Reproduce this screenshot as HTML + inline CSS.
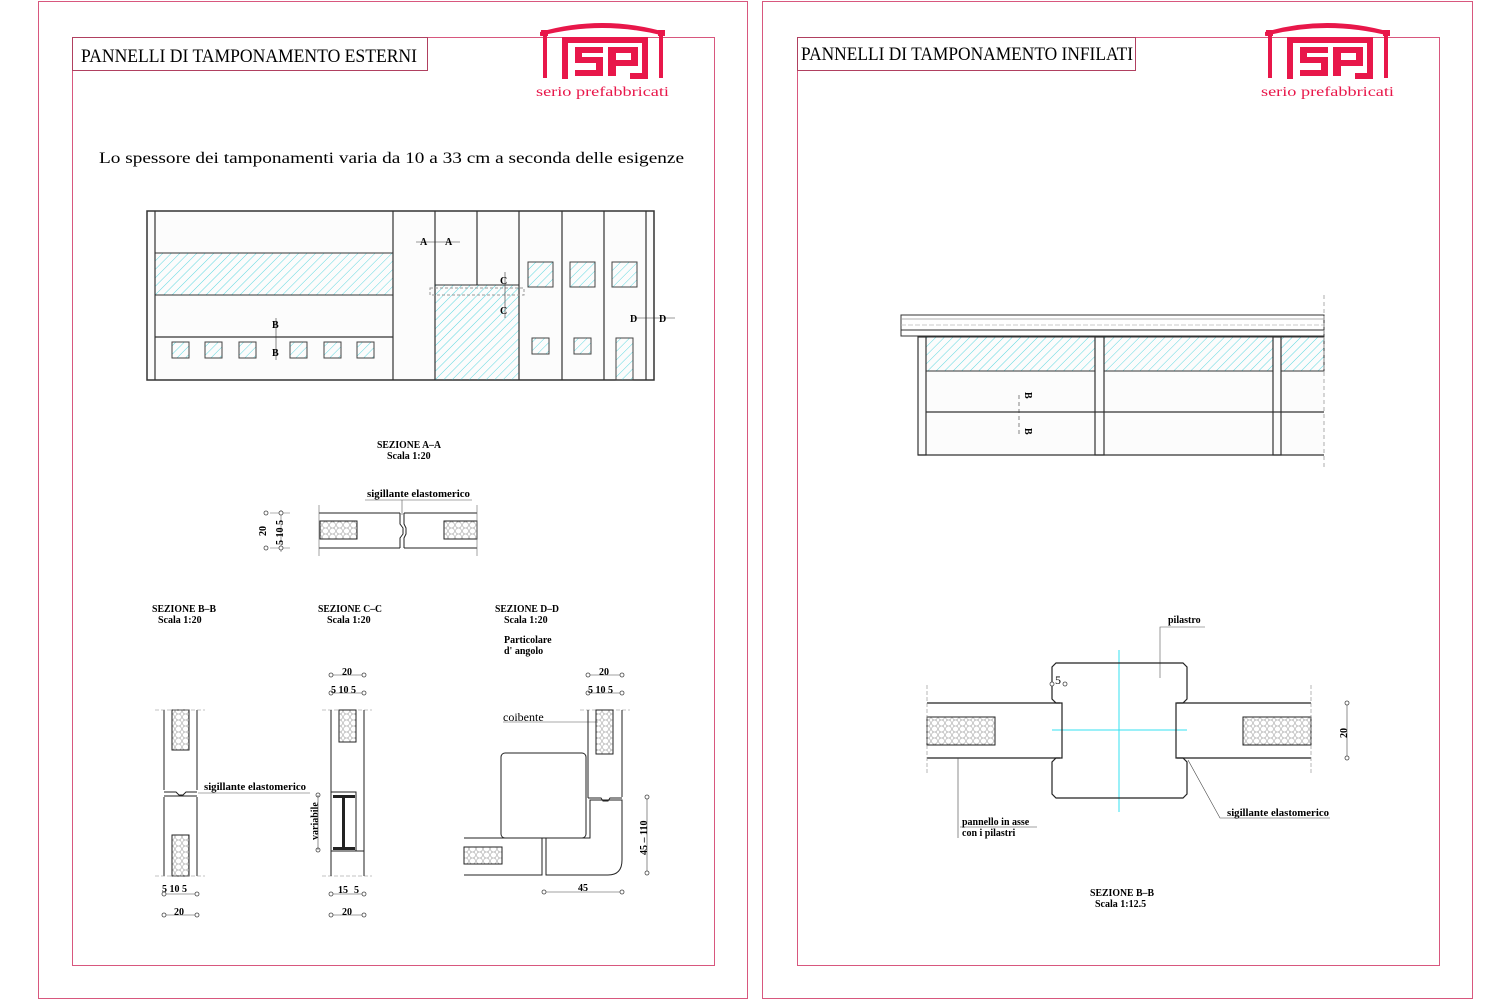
<!DOCTYPE html>
<html><head><meta charset="utf-8"><style>
html,body{margin:0;padding:0;background:#fff}
svg{display:block}
text{font-family:"Liberation Serif",serif;fill:#000}
.s{font-weight:bold;font-size:10px}
</style></head><body>
<svg width="1500" height="1000" viewBox="0 0 1500 1000" xmlns="http://www.w3.org/2000/svg">
<defs>
<pattern id="h" width="6" height="6" patternUnits="userSpaceOnUse" patternTransform="rotate(45)">
<line x1="0" y1="0" x2="0" y2="6" stroke="#5fd8e0" stroke-width="1"/>
</pattern>
<pattern id="hex" width="7" height="6" patternUnits="userSpaceOnUse">
<circle cx="3.5" cy="3" r="3" fill="none" stroke="#aaa" stroke-width="0.6"/>
</pattern>
<g id="logo" fill="#e8174a">
<path d="M540 32 Q602 14 665 32 L665 36 Q602 20 540 36 Z"/>
<rect x="541" y="30" width="7" height="6"/><rect x="543" y="36" width="4" height="42"/>
<rect x="658" y="30" width="7" height="6"/><rect x="659" y="36" width="4" height="42"/>
<path d="M562 37 H648 V79 H630 V73 H642 V43 H568 V79 H562 Z"/>
<path d="M575 47 H603 V53 H582 V57 H603 V76 H575 V70 H596 V63 H575 Z"/>
<path d="M608 47 H638 V66 H616 V76 H608 Z M616 53 V60 H631 V53 Z"/>
</g>
<g id="dot"><circle r="2" fill="#fff" stroke="#444" stroke-width="0.8"/></g>
</defs>

<g fill="none" stroke="#d8577e" stroke-width="1">
<rect x="38.5" y="1.5" width="709" height="997"/>
<rect x="72.5" y="37.5" width="642" height="928"/>
<rect x="762.5" y="1.5" width="710" height="997"/>
<rect x="797.5" y="37.5" width="642" height="928"/>
</g>
<g fill="#fff" stroke="#b04060" stroke-width="1">
<rect x="72.5" y="37.5" width="355" height="33"/>
<rect x="797.5" y="37.5" width="338" height="33"/>
</g>
<text x="81" y="62" font-size="19" textLength="336" lengthAdjust="spacingAndGlyphs">PANNELLI  DI  TAMPONAMENTO  ESTERNI</text>
<text x="801" y="60" font-size="19" textLength="332" lengthAdjust="spacingAndGlyphs">PANNELLI  DI  TAMPONAMENTO  INFILATI</text>

<use href="#logo"/>
<use href="#logo" transform="translate(725,0)"/>
<text x="536" y="96" font-size="14" style="fill:#e8174a" textLength="133" lengthAdjust="spacingAndGlyphs">serio  prefabbricati</text>
<text x="1261" y="96" font-size="14" style="fill:#e8174a" textLength="133" lengthAdjust="spacingAndGlyphs">serio  prefabbricati</text>

<text x="99" y="163" font-size="16" textLength="585" lengthAdjust="spacingAndGlyphs">Lo  spessore  dei  tamponamenti  varia  da  10  a  33  cm  a  seconda  delle  esigenze</text>

<rect x="147" y="211" width="507" height="169" fill="#fcfcfc" stroke="#333" stroke-width="1.5"/>
<rect x="155" y="253" width="238" height="42" fill="url(#h)" stroke="#333"/>
<rect x="435" y="285" width="84" height="95" fill="url(#h)" stroke="#333"/>
<g fill="url(#h)" stroke="#444">
<rect x="172" y="342" width="17" height="16"/><rect x="205" y="342" width="17" height="16"/><rect x="239" y="342" width="17" height="16"/>
<rect x="290" y="342" width="17" height="16"/><rect x="324" y="342" width="17" height="16"/><rect x="357" y="342" width="17" height="16"/>
<rect x="528" y="262" width="25" height="25"/><rect x="570" y="262" width="25" height="25"/><rect x="612" y="262" width="25" height="25"/>
<rect x="532" y="338" width="17" height="16"/><rect x="574" y="338" width="17" height="16"/><rect x="616" y="338" width="17" height="42"/>
</g>
<g stroke="#333" stroke-width="1.2">
<line x1="155" y1="211" x2="155" y2="380"/><line x1="393" y1="211" x2="393" y2="380"/>
<line x1="435" y1="211" x2="435" y2="380"/><line x1="477" y1="211" x2="477" y2="285"/>
<line x1="519" y1="211" x2="519" y2="380"/><line x1="562" y1="211" x2="562" y2="380"/>
<line x1="604" y1="211" x2="604" y2="380"/><line x1="646" y1="211" x2="646" y2="380"/>
<line x1="155" y1="337" x2="393" y2="337"/>
</g>
<rect x="430" y="288" width="94" height="7" fill="none" stroke="#999" stroke-dasharray="3,2"/>
<g stroke="#333" stroke-width="0.6" fill="none">
<line x1="416" y1="242" x2="460" y2="242"/>
<line x1="276" y1="318" x2="276" y2="360"/><line x1="505" y1="272" x2="505" y2="318"/>
<line x1="633" y1="318" x2="675" y2="318"/>
</g>
<text x="420" y="245" class="s">A</text><text x="445" y="245" class="s">A</text>
<text x="630" y="322" class="s">D</text><text x="659" y="322" class="s">D</text>
<text x="272" y="328" class="s">B</text><text x="272" y="356" class="s">B</text>
<text x="500" y="284" class="s">C</text><text x="500" y="314" class="s">C</text>

<text x="377" y="448" class="s" textLength="64" lengthAdjust="spacingAndGlyphs">SEZIONE   A–A</text>
<text x="387" y="459" class="s">Scala  1:20</text>
<text x="367" y="497" class="s" textLength="103" lengthAdjust="spacingAndGlyphs">sigillante  elastomerico</text>
<line x1="365" y1="500" x2="472" y2="500" stroke="#555" stroke-width="0.6"/>
<line x1="402" y1="500" x2="402" y2="515" stroke="#555" stroke-width="0.6"/>
<g stroke="#222" stroke-width="1" fill="none">
<line x1="319" y1="513" x2="400" y2="513"/><line x1="319" y1="548" x2="400" y2="548"/>
<line x1="404" y1="513" x2="477" y2="513"/><line x1="404" y1="548" x2="477" y2="548"/>
<path d="M400 513 V524 L403 528 V534 L400 538 V548 M404 513 V524 L406 528 V534 L404 538 V548"/>
</g>
<rect x="320" y="521" width="37" height="18" fill="url(#hex)" stroke="#222"/>
<rect x="444" y="521" width="33" height="18" fill="url(#hex)" stroke="#222"/>
<g stroke="#666" stroke-width="0.6"><line x1="319" y1="505" x2="319" y2="556"/><line x1="477" y1="505" x2="477" y2="556"/>
<line x1="270" y1="513" x2="290" y2="513"/><line x1="270" y1="548" x2="290" y2="548"/><line x1="281" y1="510" x2="281" y2="552"/></g>
<use href="#dot" x="281" y="513"/><use href="#dot" x="281" y="548"/><use href="#dot" x="266" y="513"/><use href="#dot" x="266" y="548"/>
<text x="266" y="536" class="s" transform="rotate(-90 266 536)">20</text>
<text x="283" y="545" class="s" transform="rotate(-90 283 545)">5 10 5</text>

<text x="152" y="612" class="s" textLength="64" lengthAdjust="spacingAndGlyphs">SEZIONE   B–B</text>
<text x="158" y="623" class="s">Scala  1:20</text>
<text x="318" y="612" class="s" textLength="64" lengthAdjust="spacingAndGlyphs">SEZIONE   C–C</text>
<text x="327" y="623" class="s">Scala  1:20</text>
<text x="495" y="612" class="s" textLength="64" lengthAdjust="spacingAndGlyphs">SEZIONE   D–D</text>
<text x="504" y="623" class="s">Scala  1:20</text>
<text x="504" y="643" class="s">Particolare</text>
<text x="504" y="654" class="s">d'  angolo</text>

<g stroke="#222" stroke-width="1" fill="none">
<path d="M164 710 V790 M197 710 V790 M164 797 V876 M197 797 V876"/>
<path d="M164 792 H176 L179 795 H183 L186 792 H197 M164 796 H197"/>
</g>
<rect x="172" y="710" width="17" height="40" fill="url(#hex)" stroke="#222"/>
<rect x="172" y="835" width="17" height="41" fill="url(#hex)" stroke="#222"/>
<line x1="198" y1="793" x2="310" y2="793" stroke="#555" stroke-width="0.6"/>
<text x="204" y="790" class="s" font-size="10.5" textLength="102" lengthAdjust="spacingAndGlyphs">sigillante  elastomerico</text>
<g stroke="#888" stroke-width="0.6" stroke-dasharray="4,2"><line x1="155" y1="710" x2="205" y2="710"/><line x1="155" y1="876" x2="205" y2="876"/>
<line x1="322" y1="710" x2="372" y2="710"/><line x1="322" y1="876" x2="372" y2="876"/>
<line x1="580" y1="710" x2="630" y2="710"/></g>
<g stroke="#444" stroke-width="0.6"><line x1="164" y1="894" x2="197" y2="894"/><line x1="164" y1="915" x2="197" y2="915"/>
<line x1="331" y1="675" x2="364" y2="675"/><line x1="331" y1="693" x2="364" y2="693"/>
<line x1="331" y1="894" x2="364" y2="894"/><line x1="331" y1="915" x2="364" y2="915"/>
<line x1="588" y1="675" x2="622" y2="675"/><line x1="588" y1="693" x2="622" y2="693"/>
<line x1="544" y1="892" x2="622" y2="892"/><line x1="647" y1="797" x2="647" y2="873"/></g>
<use href="#dot" x="164" y="915"/><use href="#dot" x="197" y="915"/><use href="#dot" x="164" y="894"/><use href="#dot" x="197" y="894"/>
<use href="#dot" x="331" y="675"/><use href="#dot" x="364" y="675"/><use href="#dot" x="331" y="693"/><use href="#dot" x="364" y="693"/>
<use href="#dot" x="331" y="894"/><use href="#dot" x="364" y="894"/><use href="#dot" x="331" y="915"/><use href="#dot" x="364" y="915"/>
<use href="#dot" x="588" y="675"/><use href="#dot" x="622" y="675"/><use href="#dot" x="588" y="693"/><use href="#dot" x="622" y="693"/>
<use href="#dot" x="544" y="892"/><use href="#dot" x="622" y="892"/><use href="#dot" x="647" y="797"/><use href="#dot" x="647" y="873"/>
<use href="#dot" x="318" y="795"/><use href="#dot" x="318" y="850"/>
<text x="162" y="892" class="s">5 10 5</text><text x="174" y="915" class="s">20</text>
<text x="342" y="675" class="s">20</text><text x="331" y="693" class="s">5 10 5</text>
<text x="338" y="893" class="s">15</text><text x="354" y="893" class="s">5</text><text x="342" y="915" class="s">20</text>
<text x="599" y="675" class="s">20</text><text x="588" y="693" class="s">5 10 5</text>
<text x="578" y="891" class="s">45</text>
<text x="647" y="855" class="s" transform="rotate(-90 647 855)">45 – 110</text>
<text x="318" y="840" class="s" transform="rotate(-90 318 840)">variabile</text>

<g stroke="#222" stroke-width="1" fill="none">
<path d="M331 710 V876 M364 710 V876 M331 792 H356 V851 H364 M331 851 H356"/>
</g>
<rect x="339" y="710" width="17" height="32" fill="url(#hex)" stroke="#222"/>
<g fill="#222"><rect x="333" y="795" width="22" height="3"/><rect x="333" y="847" width="22" height="3"/><rect x="342" y="798" width="3" height="49"/></g>
<line x1="318" y1="795" x2="318" y2="850" stroke="#444" stroke-width="0.6"/>

<text x="503" y="721" font-size="12">coibente</text>
<line x1="503" y1="722" x2="598" y2="722" stroke="#555" stroke-width="0.6"/>
<g stroke="#222" stroke-width="1" fill="none">
<path d="M588 710 V798 M622 710 V797"/>
<path d="M588 798 H601 L603 801 H608 L610 798 H622"/>
<rect x="501" y="753" width="85" height="85" rx="4"/>
<path d="M464 838 H542 V875 H464 M546 838 V875 H608 Q622 875 622 860 V800 H590 V838 H546"/>
</g>
<rect x="596" y="710" width="17" height="44" fill="url(#hex)" stroke="#222"/>
<rect x="464" y="847" width="38" height="17" fill="url(#hex)" stroke="#222"/>

<rect x="901" y="315" width="423" height="15" fill="#fff" stroke="#333"/>
<rect x="901" y="330" width="423" height="6" fill="#fff" stroke="#333"/>
<line x1="901" y1="319" x2="1324" y2="319" stroke="#999" stroke-width="0.8"/>
<line x1="901" y1="325" x2="1324" y2="325" stroke="#bbb" stroke-width="0.8" stroke-dasharray="5,2"/>
<rect x="918" y="337" width="406" height="118" fill="#fcfcfc" stroke="none"/>
<g fill="url(#h)" stroke="#333"><rect x="926" y="337" width="169" height="34"/><rect x="1104" y="337" width="169" height="34"/><rect x="1281" y="337" width="43" height="34"/></g>
<g stroke="#333" stroke-width="1.2" fill="none">
<rect x="918" y="337" width="8" height="118"/><rect x="1095" y="337" width="9" height="118"/><rect x="1273" y="337" width="8" height="118"/>
<line x1="918" y1="455" x2="1324" y2="455"/><line x1="926" y1="412" x2="1324" y2="412"/>
</g>
<line x1="1324" y1="295" x2="1324" y2="470" stroke="#999" stroke-dasharray="4,3" stroke-width="0.8"/>
<line x1="1019" y1="395" x2="1019" y2="435" stroke="#333" stroke-width="0.6" stroke-dasharray="4,3"/>
<text x="1025" y="392" class="s" transform="rotate(90 1025 392)">B</text>
<text x="1025" y="428" class="s" transform="rotate(90 1025 428)">B</text>

<text x="1168" y="623" class="s">pilastro</text>
<path d="M1160 678 V627 H1205" stroke="#555" stroke-width="0.6" fill="none"/>
<line x1="1119" y1="650" x2="1119" y2="812" stroke="#34e0f0"/>
<line x1="1052" y1="730" x2="1187" y2="730" stroke="#34e0f0"/>
<g stroke="#222" stroke-width="1.2" fill="none">
<path d="M1056 663 H1183 L1187 667 V699 L1183 703 H1176 V758 H1183 L1187 762 V794 L1183 798 H1056 L1052 794 V762 L1056 758 H1062 V703 H1056 L1052 699 V667 Z"/>
<path d="M927 703 H1060 M927 758 H1060 M1177 703 H1311 M1177 758 H1311"/>
</g>
<rect x="927" y="717" width="68" height="28" fill="url(#hex)" stroke="#222"/>
<rect x="1243" y="717" width="68" height="28" fill="url(#hex)" stroke="#222"/>
<g stroke="#888" stroke-width="0.6" stroke-dasharray="4,2"><line x1="927" y1="685" x2="927" y2="775"/><line x1="1311" y1="685" x2="1311" y2="775"/></g>
<g stroke="#444" stroke-width="0.6" fill="none">
<line x1="1347" y1="703" x2="1347" y2="758"/>
<path d="M958 758 V838 M1188 760 L1220 818 H1330"/>
<line x1="960" y1="827" x2="1037" y2="827"/>
</g>
<use href="#dot" x="1347" y="703"/><use href="#dot" x="1347" y="758"/>
<use href="#dot" x="1052" y="684"/><use href="#dot" x="1065" y="684"/>
<text x="1055" y="684" font-size="12">5</text>
<text x="1347" y="738" class="s" transform="rotate(-90 1347 738)" font-size="11">20</text>
<text x="962" y="825" class="s">pannello  in  asse</text>
<text x="962" y="836" class="s">con  i  pilastri</text>
<text x="1227" y="816" class="s" textLength="102" lengthAdjust="spacingAndGlyphs">sigillante  elastomerico</text>
<text x="1090" y="896" class="s" textLength="64" lengthAdjust="spacingAndGlyphs">SEZIONE   B–B</text>
<text x="1095" y="907" class="s">Scala  1:12.5</text>
</svg>
</body></html>
